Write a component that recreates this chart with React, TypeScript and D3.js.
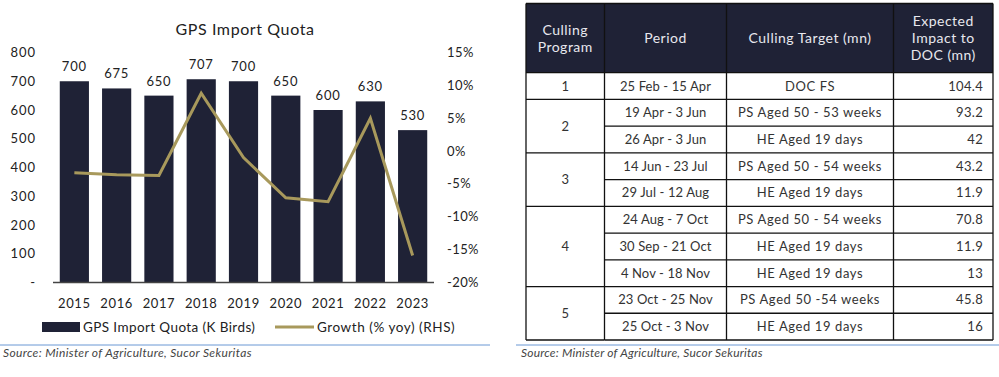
import React from "react";
import * as d3 from "d3";

const years = ["2015", "2016", "2017", "2018", "2019", "2020", "2021", "2022", "2023"];
const quota = [700, 675, 650, 707, 700, 650, 600, 630, 530];
const growth = [-3.3, -3.6, -3.7, 8.8, -1.0, -7.1, -7.7, 5.0, -15.9];
const leftTicks = [0, 100, 200, 300, 400, 500, 600, 700, 800];
const rightTicks = [-20, -15, -10, -5, 0, 5, 10, 15];

const headers = [["Culling", "Program"], ["Period"], ["Culling Target (mn)"], ["Expected", "Impact to", "DOC (mn)"]];
const programs = ["1", "2", "3", "4", "5"];
const programRows = [1, 2, 2, 3, 2];
const periods = [
  "25 Feb - 15 Apr", "19 Apr - 3 Jun", "26 Apr - 3 Jun", "14 Jun - 23 Jul", "29 Jul - 12 Aug",
  "24 Aug - 7 Oct", "30 Sep - 21 Oct", "4 Nov - 18 Nov", "23 Oct - 25 Nov", "25 Oct - 3 Nov",
];
const targets = [
  "DOC FS", "PS Aged 50 - 53 weeks", "HE Aged 19 days", "PS Aged 50 - 54 weeks", "HE Aged 19 days",
  "PS Aged 50 - 54 weeks", "HE Aged 19 days", "HE Aged 19 days", "PS Aged 50 -54 weeks", "HE Aged 19 days",
];
const impacts = ["104.4", "93.2", "42", "43.2", "11.9", "70.8", "11.9", "13", "45.8", "16"];

const FONT = "Lato, 'Open Sans', sans-serif";
const NAVY = "#1f2236";
const GOLD = "#a8995c";
const SOURCE = "Source: Minister of Agriculture, Sucor Sekuritas";

export default function App() {
  const x = d3.scaleBand<string>().domain(years).range([53, 434]).paddingInner(0.31).paddingOuter(0.16);
  const yL = d3.scaleLinear().domain([0, 800]).range([282.5, 52.5]);
  const yR = d3.scaleLinear().domain([-20, 15]).range([282.5, 52.5]);
  const line = d3
    .line<number>()
    .x((_, i) => (x(years[i]) as number) + x.bandwidth() / 2)
    .y((d) => yR(d));

  // table geometry
  const colX = [526, 604.5, 726.5, 893.5, 993];
  const top = 3.5;
  const headerBottom = 72.7;
  const rowH = (340 - headerBottom) / periods.length;
  const rowY = (i: number) => headerBottom + i * rowH;
  let acc = 0;
  const groups = programs.map((p, i) => {
    const g = { label: p, start: acc, n: programRows[i] };
    acc += programRows[i];
    return g;
  });

  return (
    <svg width={999} height={377} style={{ position: "absolute", left: 0, top: 0, background: "#fff" }} fontFamily={FONT}>
      {/* Chart */}
      <text x={245} y={35} textAnchor="middle" fontSize={16} letterSpacing={0.6} fill="#222">GPS Import Quota</text>
      {leftTicks.map((t) => (
        <text key={"l" + t} x={36} y={yL(t) + 4.5} textAnchor="end" fontSize={13} letterSpacing={1} fill="#222">
          {t === 0 ? "-" : t}
        </text>
      ))}
      {rightTicks.map((t) => (
        <text key={"r" + t} x={447} y={yR(t) + 4.5} textAnchor="start" fontSize={13} letterSpacing={0.4} fill="#222">
          {t + "%"}
        </text>
      ))}
      {quota.map((v, i) => (
        <g key={years[i]}>
          <rect x={x(years[i])} y={yL(v)} width={x.bandwidth()} height={yL(0) - yL(v)} fill={NAVY} />
          <text x={(x(years[i]) as number) + x.bandwidth() / 2} y={yL(v) - 10} textAnchor="middle" fontSize={13} letterSpacing={0.8} fill="#222">
            {v}
          </text>
          <text x={(x(years[i]) as number) + x.bandwidth() / 2} y={308} textAnchor="middle" fontSize={13} letterSpacing={0.6} fill="#222">
            {years[i]}
          </text>
        </g>
      ))}
      <line x1={53} x2={434} y1={282.5} y2={282.5} stroke="#444" strokeWidth={1.5} />
      <path d={line(growth) || ""} fill="none" stroke={GOLD} strokeWidth={3} strokeLinejoin="miter" />
      {/* legend */}
      <rect x={42} y={322} width={38} height={10} fill={NAVY} />
      <text x={83} y={332} fontSize={13.5} letterSpacing={0.4} fill="#222">GPS Import Quota (K Birds)</text>
      <line x1={275} x2={314} y1={327} y2={327} stroke={GOLD} strokeWidth={3} />
      <text x={317} y={332} fontSize={13.5} letterSpacing={0.55} fill="#222">Growth (% yoy) (RHS)</text>
      <line x1={0} x2={490} y1={345} y2={345} stroke="#6a98d4" strokeWidth={1} />
      <text x={3} y={357} fontSize={12} fontStyle="italic" letterSpacing={0.35} fill="#444">{SOURCE}</text>

      {/* Table */}
      <rect x={colX[0]} y={top} width={colX[4] - colX[0]} height={headerBottom - top} fill={NAVY} />
      {headers.map((h, i) => {
        const cx = (colX[i] + colX[i + 1]) / 2;
        const cy = (top + headerBottom) / 2;
        const lh = 17;
        return (
          <text key={"h" + i} x={cx} textAnchor="middle" fontSize={14} letterSpacing={0.5} fill="#e8e8ee">
            {h.map((s, j) => (
              <tspan key={j} x={cx} y={cy + 5 + (j - (h.length - 1) / 2) * lh}>{s}</tspan>
            ))}
          </text>
        );
      })}
      {periods.map((p, i) => (
        <g key={"row" + i}>
          <text x={(colX[1] + colX[2]) / 2} y={rowY(i) + rowH / 2 + 4.5} textAnchor="middle" fontSize={13} letterSpacing={0.1} fill="#333">{p}</text>
          <text x={(colX[2] + colX[3]) / 2} y={rowY(i) + rowH / 2 + 4.5} textAnchor="middle" fontSize={13} letterSpacing={0.6} fill="#333">{targets[i]}</text>
          <text x={colX[4] - 10} y={rowY(i) + rowH / 2 + 4.5} textAnchor="end" fontSize={13} letterSpacing={0.3} fill="#333">{impacts[i]}</text>
          <line x1={colX[1]} x2={colX[4]} y1={rowY(i + 1)} y2={rowY(i + 1)} stroke="#111" strokeWidth={1.3} />
        </g>
      ))}
      {groups.map((g) => (
        <g key={"g" + g.label}>
          <text x={(colX[0] + colX[1]) / 2} y={rowY(g.start) + (g.n * rowH) / 2 + 4.5} textAnchor="middle" fontSize={13} fill="#333">{g.label}</text>
          <line x1={colX[0]} x2={colX[1]} y1={rowY(g.start + g.n)} y2={rowY(g.start + g.n)} stroke="#111" strokeWidth={1.3} />
        </g>
      ))}
      {colX.map((cx, i) => (
        <line key={"v" + i} x1={cx} x2={cx} y1={top} y2={rowY(periods.length)} stroke="#111" strokeWidth={1.3} />
      ))}
      <line x1={colX[0]} x2={colX[4]} y1={top} y2={top} stroke="#111" strokeWidth={1.3} />
      <line x1={colX[0]} x2={colX[4]} y1={headerBottom} y2={headerBottom} stroke="#111" strokeWidth={1.3} />
      <line x1={516} x2={999} y1={345} y2={345} stroke="#6a98d4" strokeWidth={1} />
      <text x={521} y={357} fontSize={12} fontStyle="italic" letterSpacing={0.2} fill="#444">{SOURCE}</text>
    </svg>
  );
}
